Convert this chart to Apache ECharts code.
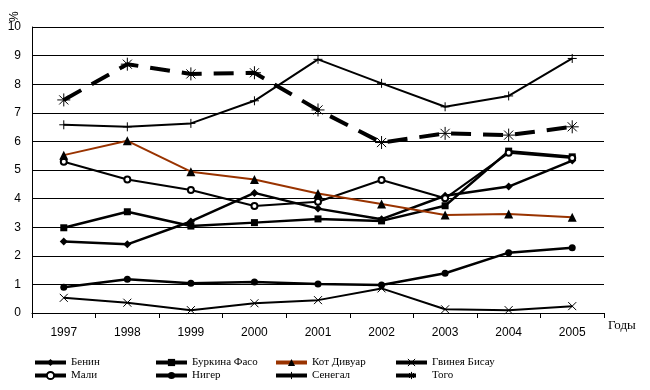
<!DOCTYPE html>
<html><head><meta charset="utf-8">
<script src="https://cdn.jsdelivr.net/npm/echarts@6/dist/echarts.min.js"></script>
<style>html,body{margin:0;padding:0;background:#fff}#c{width:650px;height:390px}</style>
</head><body><div id="c"></div>
<script>
var years = ['1997','1998','1999','2000','2001','2002','2003','2004','2005'];
var yTicks = [0,1,2,3,4,5,6,7,8,9,10];
var benin   = [2.5, 2.4, 3.2, 4.2, 3.65, 3.28, 4.1, 4.42, 5.33];
var burkina = [2.98, 3.54, 3.04, 3.16, 3.29, 3.22, 3.75, 5.66, 5.46];
var coteIv  = [5.52, 6.02, 4.94, 4.67, 4.18, 3.81, 3.43, 3.46, 3.35];
var guinea  = [0.53, 0.36, 0.1, 0.34, 0.45, 0.86, 0.13, 0.1, 0.24];
var mali    = [5.29, 4.67, 4.30, 3.74, 3.89, 4.65, 4.01, 5.6, 5.42];
var niger   = [0.9, 1.18, 1.04, 1.08, 1.01, 0.98, 1.39, 2.11, 2.28];
var senegal = [6.58, 6.51, 6.63, 7.42, 8.87, 8.03, 7.21, 7.59, 8.9];
var togo    = [7.45, 8.7, 8.36, 8.40, 7.1, 5.96, 6.28, 6.22, 6.51];
var names = ['Бенин','Буркина Фасо','Кот Дивуар','Гвинея Бисау','Мали','Нигер','Сенегал','Того'];

var plusPath = 'path://M0,5 L10,5 M5,0 L5,10';
var crossPath = 'path://M0,0 L10,10 M10,0 L0,10';
var starPath = 'path://M0,5 L10,5 M5,0 L5,10 M1.5,1.5 L8.5,8.5 M8.5,1.5 L1.5,8.5';

function s(name, data, opt) {
  return {
    name: name, type: 'line', data: data, symbol: opt.symbol, symbolSize: opt.size,
    lineStyle: {color: opt.color || '#000', width: opt.width || 2.5, type: opt.dash || 'solid'},
    itemStyle: opt.item || {color: opt.color || '#000'},
    z: opt.z || 2
  };
}

var series = [
  s(names[0], benin, {symbol:'diamond', size:8}),
  s(names[1], burkina, {symbol:'rect', size:7}),
  s(names[2], coteIv, {symbol:'triangle', size:9, color:'#993300', width:2, item:{color:'#000'}, z:3}),
  s(names[3], guinea, {symbol:crossPath, size:8, width:2, item:{color:'#000', borderColor:'#000', borderWidth:1}}),
  s(names[4], mali, {symbol:'emptyCircle', size:6, width:2, item:{color:'#000', borderWidth:1}}),
  s(names[5], niger, {symbol:'circle', size:7}),
  s(names[6], senegal, {symbol:plusPath, size:9, width:2, item:{color:'#000', borderColor:'#000', borderWidth:1}}),
  s(names[7], togo, {symbol:starPath, size:13, width:4, dash:[20,12], item:{color:'#000', borderColor:'#000', borderWidth:1}})
];

var legendText = {fontFamily:'Liberation Serif', fontSize:11, color:'#000', lineHeight:13};
function lg(left, data) {
  return {orient:'vertical', left:left, top:356, itemWidth:31, itemHeight:9, itemGap:0,
    data:data, textStyle:legendText, selectedMode:false, padding:0,
    lineStyle:{width:4}, itemStyle:{borderWidth:1}};
}

var chart = echarts.init(document.getElementById('c'), null, {renderer:'canvas'});
chart.setOption({
  animation: false,
  backgroundColor: '#fff',
  grid: {left:32, right:46, top:27, bottom:77, containLabel:false},
  legend: [
    lg(33, [names[0], names[4]]),
    lg(154, [names[1], names[5]]),
    lg(274, [names[2], names[6]]),
    lg(394, [names[3], names[7]])
  ],
  graphic: [{
    type:'text', x:9, y:22, rotation:Math.PI/2,
    style:{text:'%', fontFamily:'Liberation Sans', fontSize:12, fill:'#000'}
  }],
  xAxis: {
    type:'category', data: years, boundaryGap:true,
    name:'Годы', nameLocation:'end', nameGap:4,
    nameTextStyle:{fontFamily:'Liberation Serif', fontSize:13, color:'#000', verticalAlign:'top', padding:[6,0,0,0]},
    axisLine:{lineStyle:{color:'#000', width:1}},
    axisTick:{show:true, length:5, lineStyle:{color:'#000'}},
    axisLabel:{fontFamily:'Liberation Sans', fontSize:12, color:'#000', margin:14}
  },
  yAxis: {
    type:'value', min: yTicks[0], max: yTicks[yTicks.length-1], interval:1,
    axisLine:{show:true, lineStyle:{color:'#000', width:1}},
    axisTick:{show:false},
    splitLine:{show:true, lineStyle:{color:'#000', width:1}},
    axisLabel:{fontFamily:'Liberation Sans', fontSize:12, color:'#000', margin:11}
  },
  series: series
});
</script></body></html>
